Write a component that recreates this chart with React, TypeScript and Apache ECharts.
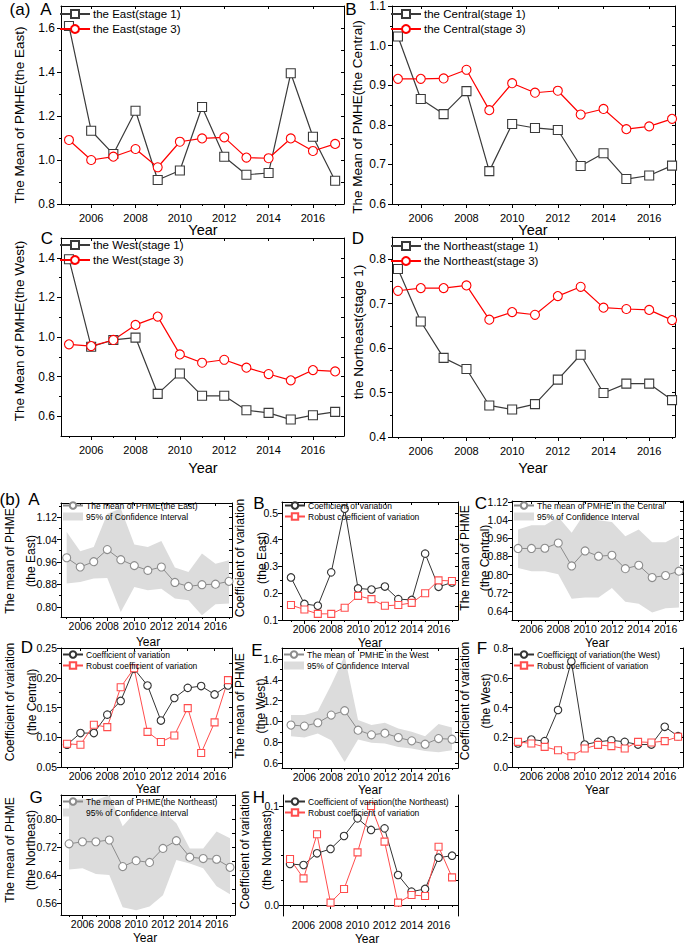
import React, { useEffect, useRef } from "react";
import * as echarts from "echarts";

const FONT = "'Liberation Sans', Arial, Helvetica, sans-serif";

const years = [2005, 2006, 2007, 2008, 2009, 2010, 2011, 2012, 2013, 2014, 2015, 2016, 2017];
const xLabelYears = [2006, 2008, 2010, 2012, 2014, 2016];
const xMinorYears = [2005, 2007, 2009, 2011, 2013, 2015, 2017];

// (a) stage 1 / stage 3 means
const eastStage1 = [1.609, 1.133, 1.027, 1.224, 0.909, 0.952, 1.241, 1.015, 0.933, 0.941, 1.394, 1.106, 0.906];
const eastStage3 = [1.091, 1.0, 1.015, 1.05, 0.967, 1.083, 1.098, 1.103, 1.011, 1.008, 1.098, 1.041, 1.073];
const centralStage1 = [1.023, 0.865, 0.827, 0.885, 0.683, 0.802, 0.792, 0.787, 0.696, 0.728, 0.663, 0.672, 0.697];
const centralStage3 = [0.916, 0.916, 0.917, 0.939, 0.837, 0.905, 0.881, 0.886, 0.826, 0.84, 0.789, 0.796, 0.815];
const westStage1 = [1.393, 0.951, 0.985, 0.997, 0.713, 0.816, 0.703, 0.703, 0.63, 0.617, 0.583, 0.605, 0.622];
const westStage3 = [0.963, 0.954, 0.985, 1.061, 1.103, 0.912, 0.87, 0.885, 0.845, 0.813, 0.781, 0.833, 0.826];
const neStage1 = [0.778, 0.66, 0.578, 0.553, 0.471, 0.462, 0.474, 0.529, 0.585, 0.499, 0.52, 0.52, 0.483];
const neStage3 = [0.729, 0.735, 0.735, 0.741, 0.664, 0.681, 0.675, 0.717, 0.738, 0.691, 0.688, 0.686, 0.663];

// (b) means with 95% confidence intervals
const eastMean = [0.975, 0.942, 0.961, 1.004, 0.968, 0.947, 0.93, 0.942, 0.887, 0.873, 0.879, 0.881, 0.891];
const eastUpper = [1.067, 0.998, 1.013, 1.132, 1.15, 1.022, 1.013, 1.035, 0.94, 0.924, 0.99, 0.954, 0.966];
const eastLower = [0.883, 0.889, 0.901, 0.903, 0.782, 0.871, 0.859, 0.865, 0.83, 0.824, 0.77, 0.809, 0.812];
const centralMean = [0.915, 0.915, 0.916, 0.939, 0.838, 0.904, 0.881, 0.885, 0.826, 0.841, 0.787, 0.796, 0.815];
const centralUpper = [0.998, 1.017, 1.017, 1.054, 0.984, 1.072, 1.039, 1.032, 0.969, 0.998, 0.942, 0.942, 0.973];
const centralLower = [0.829, 0.815, 0.815, 0.801, 0.694, 0.699, 0.699, 0.741, 0.68, 0.672, 0.633, 0.652, 0.655];
const westMean = [0.965, 0.955, 0.987, 1.061, 1.103, 0.916, 0.871, 0.887, 0.845, 0.813, 0.781, 0.835, 0.829];
const westUpper = [1.061, 1.061, 1.1, 1.352, 1.63, 1.013, 0.965, 0.987, 0.932, 0.9, 0.858, 0.974, 0.942];
const westLower = [0.858, 0.845, 0.884, 0.819, 0.61, 0.826, 0.794, 0.787, 0.755, 0.739, 0.716, 0.703, 0.723];
const neMean = [0.729, 0.735, 0.735, 0.74, 0.664, 0.681, 0.676, 0.716, 0.738, 0.691, 0.687, 0.685, 0.662];
const neUpper = [0.854, 0.858, 0.854, 0.868, 0.779, 0.822, 0.803, 0.822, 0.788, 0.716, 0.716, 0.764, 0.745];
const neLower = [0.656, 0.659, 0.643, 0.64, 0.548, 0.539, 0.55, 0.582, 0.683, 0.673, 0.659, 0.608, 0.585];

// (b) coefficients of variation
const eastCV = [0.259, 0.16, 0.153, 0.278, 0.516, 0.218, 0.214, 0.225, 0.178, 0.175, 0.348, 0.224, 0.24];
const eastRCV = [0.156, 0.139, 0.123, 0.123, 0.146, 0.19, 0.178, 0.153, 0.156, 0.164, 0.2, 0.248, 0.246];
const centralCV = [0.0875, 0.107, 0.107, 0.138, 0.161, 0.215, 0.187, 0.128, 0.166, 0.183, 0.186, 0.172, 0.187];
const centralRCV = [0.089, 0.0875, 0.121, 0.117, 0.184, 0.216, 0.109, 0.092, 0.103, 0.149, 0.0735, 0.125, 0.196];
const westCV = [0.158, 0.185, 0.174, 0.383, 0.71, 0.151, 0.169, 0.18, 0.169, 0.151, 0.151, 0.27, 0.207];
const westRCV = [0.169, 0.158, 0.135, 0.113, 0.072, 0.124, 0.149, 0.14, 0.124, 0.169, 0.165, 0.174, 0.203];
const neCV = [0.0414, 0.0404, 0.0522, 0.0566, 0.0697, 0.0875, 0.0758, 0.0774, 0.0303, 0.0135, 0.0162, 0.0478, 0.0498];
const neRCV = [0.0465, 0.0269, 0.0714, 0.0024, 0.0162, 0.0532, 0.1, 0.064, 0.0024, 0.0101, 0.0091, 0.0589, 0.0279];

// y tick labels
const ticksAA = [0.8, 1.0, 1.2, 1.4, 1.6];
const minorAA = [0.9, 1.1, 1.3, 1.5];
const ticksAB = [0.6, 0.7, 0.8, 0.9, 1.0, 1.1];
const minorAB = [0.65, 0.75, 0.85, 0.95, 1.05];
const ticksAC = [0.6, 0.8, 1.0, 1.2, 1.4];
const minorAC = [0.7, 0.9, 1.1, 1.3];
const ticksAD = [0.4, 0.5, 0.6, 0.7, 0.8];
const minorAD = [0.45, 0.55, 0.65, 0.75];
const ticksBA = [0.8, 0.88, 0.96, 1.04, 1.12];
const minorBA = [0.84, 0.92, 1.0, 1.08, 1.16];
const ticksBB = [0.1, 0.2, 0.3, 0.4, 0.5];
const minorBB = [0.15, 0.25, 0.35, 0.45];
const ticksBC = [0.64, 0.72, 0.8, 0.88, 0.96, 1.04, 1.12];
const minorBC = [0.68, 0.76, 0.84, 0.92, 1.0, 1.08];
const ticksBD = [0.05, 0.1, 0.15, 0.2, 0.25];
const minorBD = [0.075, 0.125, 0.175, 0.225];
const ticksBE = [0.6, 0.8, 1.0, 1.2, 1.4, 1.6];
const minorBE = [0.7, 0.9, 1.1, 1.3, 1.5];
const ticksBF = [0.0, 0.2, 0.4, 0.6, 0.8];
const minorBF = [0.1, 0.3, 0.5, 0.7];
const ticksBG = [0.56, 0.64, 0.72, 0.8];
const minorBG = [0.6, 0.68, 0.76, 0.84];
const ticksBH = [0.0, 0.1];
const minorBH = [0.025, 0.05, 0.075];

const pairs = (ys: number[]) => years.map((y, i) => [y, ys[i]]);

const DARK = "#3a3a3a";
const RED = "#ff0000";
const GRAYM = "#8c8c8c";
const BAND = "#dcdcdc";
const LRED = "#ff4d4d";
const CVC = "#333333";

function lineSeries(name: string, ys: number[], symbol: string, size: number, color: string, lw = 1.2) {
  return {
    name,
    type: "line",
    data: pairs(ys),
    symbol,
    symbolSize: size,
    itemStyle: { color: "#ffffff", borderColor: color, borderWidth: 1.1 },
    lineStyle: { color, width: lw },
    z: 3,
  };
}

function bandSeries(hi: number[], lo: number[]) {
  return {
    name: "95% of Confidence Interval",
    type: "custom",
    color: BAND,
    itemStyle: { color: BAND },
    clip: true,
    z: 1,
    data: years.map((y, i) => [y, lo[i], hi[i]]),
    encode: { x: 0, y: [1, 2] },
    renderItem: (params: any, api: any) => {
      if (params.dataIndex !== 0) return null;
      const pts: number[][] = [];
      years.forEach((y, i) => pts.push(api.coord([y, hi[i]])));
      for (let i = years.length - 1; i >= 0; i--) pts.push(api.coord([years[i], lo[i]]));
      return { type: "polygon", shape: { points: pts }, style: { fill: BAND, stroke: "none" } };
    },
  };
}

const big = { xFont: 11, yFont: 12, xMargin: 8, yMargin: 6, legendFont: 11.5, itemWidth: 30, itemHeight: 10, itemGap: 3 };
const small = { xFont: 10.5, yFont: 10.5, xMargin: 3, yMargin: 4, legendFont: 8.5, itemWidth: 20, itemHeight: 8, itemGap: 2 };

const panels: any[] = [
  {
    rect: [61, 6, 283, 198], x: [2004.64, 2017.4], y: [0.8, 1.7], yTicks: ticksAA, yMinor: minorAA, dec: 1, st: big,
    series: [lineSeries("the East(stage 1)", eastStage1, "rect", 9, DARK), lineSeries("the East(stage 3)", eastStage3, "circle", 9, RED)],
    legend: { left: 59, top: 8 },
  },
  {
    rect: [392, 6, 283, 198], x: [2004.74, 2017.13], y: [0.6, 1.1], yTicks: ticksAB, yMinor: minorAB, dec: 1, st: big,
    series: [lineSeries("the Central(stage 1)", centralStage1, "rect", 9, DARK), lineSeries("the Central(stage 3)", centralStage3, "circle", 9, RED)],
    legend: { left: 390, top: 8 },
  },
  {
    rect: [61, 238, 283, 198], x: [2004.64, 2017.4], y: [0.5, 1.5], yTicks: ticksAC, yMinor: minorAC, dec: 1, st: big,
    series: [lineSeries("the West(stage 1)", westStage1, "rect", 9, DARK), lineSeries("the West(stage 3)", westStage3, "circle", 9, RED)],
    legend: { left: 59, top: 239 },
  },
  {
    rect: [392, 237, 283, 200], x: [2004.74, 2017.13], y: [0.4, 0.85], yTicks: ticksAD, yMinor: minorAD, dec: 1, st: big,
    series: [lineSeries("the Northeast(stage 1)", neStage1, "rect", 9, DARK), lineSeries("the Northeast(stage 3)", neStage3, "circle", 9, RED)],
    legend: { left: 390, top: 240 },
  },
  {
    rect: [61, 503, 171, 114], x: [2004.58, 2017.22], y: [0.764, 1.17], yTicks: ticksBA, yMinor: minorBA, dec: 2, st: small,
    series: [lineSeries("The mean of PHME(the East)", eastMean, "circle", 8, GRAYM, 1), bandSeries(eastUpper, eastLower)],
    legend: { left: 62, top: 501 },
  },
  {
    rect: [282, 502, 176, 118], x: [2004.33, 2017.45], y: [0.1, 0.541], yTicks: ticksBB, yMinor: minorBB, dec: 1, st: small,
    series: [lineSeries("Coefficient of variation", eastCV, "circle", 7.5, CVC, 1), lineSeries("Robust coefficient of variation", eastRCV, "rect", 7, LRED, 1)],
    legend: { left: 284, top: 501 },
  },
  {
    rect: [512, 501, 171, 119], x: [2004.55, 2017.3], y: [0.6, 1.124], yTicks: ticksBC, yMinor: minorBC, dec: 2, st: small,
    series: [lineSeries("The mean of PMHE in the Central", centralMean, "circle", 8, GRAYM, 1), bandSeries(centralUpper, centralLower)],
    legend: { left: 513, top: 501 },
  },
  {
    rect: [61, 648, 171, 119], x: [2004.55, 2017.3], y: [0.05, 0.25], yTicks: ticksBD, yMinor: minorBD, dec: 2, st: small,
    series: [lineSeries("Coefficient of variation", centralCV, "circle", 7.5, CVC, 1), lineSeries("Robust coefficient of variation", centralRCV, "rect", 7, LRED, 1)],
    legend: { left: 62, top: 650 },
  },
  {
    rect: [282, 648, 176, 120], x: [2004.33, 2017.45], y: [0.552, 1.706], yTicks: ticksBE, yMinor: minorBE, dec: 1, st: small,
    series: [lineSeries("The mean of  PMHE in the West", westMean, "circle", 8, GRAYM, 1), bandSeries(westUpper, westLower)],
    legend: { left: 283, top: 650 },
  },
  {
    rect: [512, 648, 171, 119], x: [2004.55, 2017.37], y: [0, 0.8], yTicks: ticksBF, yMinor: minorBF, dec: 1, st: small,
    series: [lineSeries("Coefficient of variation(the West)", westCV, "circle", 7.5, CVC, 1), lineSeries("Robust coefficient of variation", westRCV, "rect", 7, LRED, 1)],
    legend: { left: 513, top: 650 },
  },
  {
    rect: [61, 795, 174, 120], x: [2004.4, 2017.37], y: [0.5257, 0.8686], yTicks: ticksBG, yMinor: minorBG, dec: 2, st: small,
    series: [lineSeries("The mean of PHME(the Northeast)", neMean, "circle", 8, GRAYM, 1), bandSeries(neUpper, neLower)],
    legend: { left: 62, top: 797 },
  },
  {
    rect: [283, 795, 175, 121], x: [2004.48, 2017.44], y: [-0.0111, 0.1111], yTicks: ticksBH, yMinor: minorBH, dec: 1, st: small,
    series: [lineSeries("Coefficient of variation(the Northeast)", neCV, "circle", 7.5, CVC, 1), lineSeries("Robust coefficient of variation", neRCV, "rect", 7, LRED, 1)],
    legend: { left: 284, top: 797 },
  },
];

function txt(text: string, x: number, y: number, size: number, rotate = false) {
  return {
    type: "text",
    x,
    y,
    rotation: rotate ? Math.PI / 2 : 0,
    silent: true,
    style: {
      text,
      fontSize: size,
      fontFamily: FONT,
      fill: "#000",
      align: "center",
      verticalAlign: "middle",
      textAlign: "center",
      textVerticalAlign: "middle",
    },
  };
}

const graphics = [
  txt("(a)", 20, 9, 17), txt("A", 46, 9, 17), txt("B", 351, 9, 17), txt("C", 47, 238, 17), txt("D", 358, 238, 17),
  txt("(b)", 10, 499, 17), txt("A", 34, 499, 17), txt("B", 259, 503, 17), txt("C", 481, 503, 17),
  txt("D", 27, 647, 17), txt("E", 257, 650, 17), txt("F", 482, 648, 17), txt("G", 36, 797, 17), txt("H", 259, 797, 17),
  txt("The Mean of PMHE(the East)", 19, 115, 13.5, true),
  txt("The Mean of PMHE(the Central)", 357, 117, 13.5, true),
  txt("The Mean of PMHE(the West)", 19, 331, 13.5, true),
  txt("the Northeast(stage 1)", 358, 332, 13.5, true),
  txt("The mean of PHME", 10, 561, 12, true), txt("(the East)", 31, 561, 12, true),
  txt("Coefficient of variation", 240, 558, 12, true), txt("(the East)", 262, 558, 12, true),
  txt("The mean of PHME", 465, 558, 12, true), txt("(the Central)", 485, 558, 12, true),
  txt("Coefficient of variation", 10, 702, 12, true), txt("(the Central)", 32, 702, 12, true),
  txt("The mean of PHME", 240, 706, 12, true), txt("(the West)", 261, 706, 12, true),
  txt("Coefficient of variation", 465, 701, 12, true), txt("(the West)", 486, 701, 12, true),
  txt("The mean of PHME", 10, 850, 12, true), txt("(the Northeast)", 31, 850, 12, true),
  txt("Coefficient of variation", 245, 850, 12, true), txt("(the Northeast)", 267, 850, 12, true),
  txt("Year", 203, 230, 14.5), txt("Year", 533, 230, 14.5), txt("Year", 203, 468, 14.5), txt("Year", 533, 468, 14.5),
  txt("Year", 148, 642, 12), txt("Year", 370, 643, 12), txt("Year", 597, 643, 12),
  txt("Year", 148, 789, 12), txt("Year", 370, 790, 12), txt("Year", 597, 790, 12),
  txt("Year", 145, 938, 12), txt("Year", 367, 939, 12),
];

function legendEntries(seriesList: any[]) {
  return seriesList.map((s: any) => (s.type === "custom" ? { name: s.name, icon: "rect" } : { name: s.name }));
}

function buildOption() {
  const grid: any[] = [];
  const xAxis: any[] = [];
  const yAxis: any[] = [];
  const series: any[] = [];
  const legend: any[] = [];
  const axisLine = { show: true, lineStyle: { color: "#000", width: 1 } };
  const tickLine = { color: "#000", width: 1 };
  panels.forEach((p, gi) => {
    const [l, t, w, h] = p.rect;
    const st = p.st;
    grid.push({ left: l, top: t, width: w, height: h, show: false });
    const xi = xAxis.length;
    const base = { type: "value", gridIndex: gi, min: p.x[0], max: p.x[1], splitLine: { show: false } };
    xAxis.push({
      ...base, position: "bottom", axisLine,
      axisTick: { show: true, length: 4, customValues: xLabelYears, lineStyle: tickLine },
      axisLabel: { show: true, customValues: xLabelYears, fontSize: st.xFont, fontFamily: FONT, color: "#000", margin: st.xMargin, formatter: (v: number) => String(Math.round(v)) },
    });
    xAxis.push({
      ...base, position: "bottom", axisLine: { show: false },
      axisTick: { show: true, length: 2, customValues: xMinorYears, lineStyle: tickLine },
      axisLabel: { show: false },
    });
    xAxis.push({
      ...base, position: "top", axisLine,
      axisTick: { show: true, inside: true, length: 3, customValues: xLabelYears, lineStyle: tickLine },
      axisLabel: { show: false },
    });
    const yi = yAxis.length;
    const ybase = { type: "value", gridIndex: gi, min: p.y[0], max: p.y[1], splitLine: { show: false } };
    yAxis.push({
      ...ybase, position: "left", axisLine,
      axisTick: { show: true, length: 4, customValues: p.yTicks, lineStyle: tickLine },
      axisLabel: { show: true, customValues: p.yTicks, fontSize: st.yFont, fontFamily: FONT, color: "#000", margin: st.yMargin, formatter: (v: number) => v.toFixed(p.dec) },
    });
    yAxis.push({
      ...ybase, position: "left", axisLine: { show: false },
      axisTick: { show: true, length: 2, customValues: p.yMinor, lineStyle: tickLine },
      axisLabel: { show: false },
    });
    yAxis.push({
      ...ybase, position: "right", axisLine,
      axisTick: { show: true, inside: true, length: 3, customValues: [...p.yTicks, ...p.yMinor], lineStyle: tickLine },
      axisLabel: { show: false },
    });
    p.series.forEach((s: any) => series.push({ ...s, xAxisIndex: xi, yAxisIndex: yi }));
    legend.push({
      orient: "vertical",
      left: p.legend.left,
      top: p.legend.top,
      padding: 0,
      itemWidth: st.itemWidth,
      itemHeight: st.itemHeight,
      itemGap: st.itemGap,
      selectedMode: false,
      textStyle: { fontSize: st.legendFont, fontFamily: FONT, color: "#000", padding: [0, 0, 0, -2] },
      data: legendEntries(p.series),
    });
  });
  return {
    animation: false,
    backgroundColor: "#fff",
    grid,
    xAxis,
    yAxis,
    series,
    legend,
    graphic: graphics,
  };
}

export default function App() {
  const ref = useRef<HTMLDivElement>(null);
  useEffect(() => {
    const chart = echarts.init(ref.current as HTMLDivElement, null, { renderer: "svg" });
    chart.setOption(buildOption() as any);
    return () => chart.dispose();
  }, []);
  return (
    <div
      ref={ref}
      style={{ position: "absolute", left: 0, top: 0, width: 685, height: 946, background: "#fff" }}
    />
  );
}
